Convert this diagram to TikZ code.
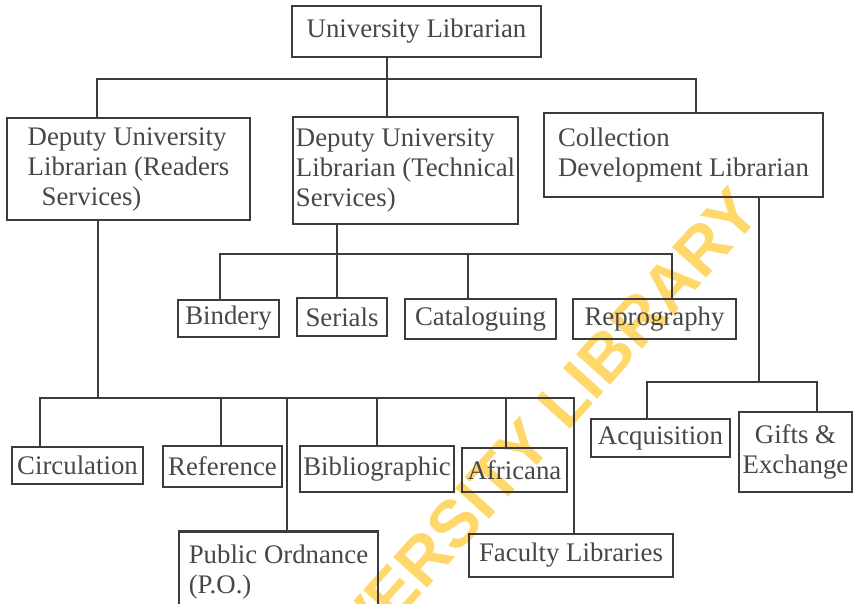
\documentclass[tikz,border=0pt]{standalone}
\usepackage{fontspec}
\setmainfont{Liberation Serif}
\newfontfamily\wmfont{Liberation Sans}
\usepackage{xcolor}
\definecolor{inkgray}{HTML}{3C3C3C}
\definecolor{wmyellow}{HTML}{FFD45C}

\begin{document}
\begin{tikzpicture}[x=0.5pt,y=-0.5pt,
        office/.style={rectangle,draw=inkgray,line width=1.1pt,text=black!72,inner sep=0pt,
            font=\fontsize{13.4}{15}\selectfont},
        link/.style={draw=inkgray,line width=1.1pt}]
            \useasboundingbox[fill=white] (0,0) rectangle (857,604);
            \clip (0,0) rectangle (857,604);
            \node[rotate=48,text=wmyellow,opacity=0.9,font=\wmfont\bfseries\fontsize{33.2}{40}\selectfont] (wmark) at (509,463) {UNIVERSITY LIBRARY};

            \node[office,minimum width=124.5pt,minimum height=25.5pt] (ulib) at (416.5,31.5) {University Librarian};

            \node[office,align=left,minimum width=121.5pt,minimum height=51pt] (dulr) at (128.5,169) {Deputy University\\Librarian (Readers\\\hspace*{7pt}Services)};
            \node[office,align=left,minimum width=112.5pt,minimum height=53.5pt] (dult) at (405.5,170.5) {Deputy University\\Librarian (Technical\\Services)};
            \node[office,align=left,minimum width=139.5pt,minimum height=42pt] (cdl) at (683.5,155) {Collection\\Development Librarian};

            \node[office,minimum width=50.5pt,minimum height=18.5pt] (bind) at (228.5,318.5) {Bindery};
            \node[office,minimum width=45pt,minimum height=19pt] (ser) at (342,317) {Serials};
            \node[office,minimum width=75.5pt,minimum height=20pt] (cat) at (480.5,319) {Cataloguing};
            \node[office,minimum width=81.5pt,minimum height=20pt] (repro) at (654.5,319) {Reprography};

            \node[office,minimum width=65.5pt,minimum height=18.5pt] (circ) at (77.5,465.5) {Circulation};
            \node[office,minimum width=59.5pt,minimum height=20.5pt] (ref) at (222.5,466.5) {Reference};
            \node[office,minimum width=77pt,minimum height=23pt] (bib) at (377,469) {Bibliographic};
            \node[office,minimum width=52.5pt,minimum height=22pt] (afr) at (514.5,470) {Africana};
            \node[office,align=left,minimum width=99.5pt,minimum height=40.5pt] (po) at (278.5,572) {Public Ordnance\\(P.O.)};
            \node[office,minimum width=102pt,minimum height=21.5pt] (fac) at (571,555.5) {Faculty Libraries};

            \node[office,minimum width=69.5pt,minimum height=19pt] (acq) at (660.5,438) {Acquisition};
            \node[office,align=center,minimum width=56.5pt,minimum height=40pt] (gifts) at (795.5,452) {Gifts \&\\Exchange};

            \coordinate (b1w) at (97,79);
            \coordinate (b1m) at (387,79);
            \coordinate (b1e) at (696,79);
            \draw[link] (ulib.south -| b1m) -- (dult.north -| b1m);
            \draw[link] (dulr.north -| b1w) -- (b1w) -- (b1e) -- (cdl.north -| b1e);

            \coordinate (b2w) at (220,254);
            \coordinate (b2m) at (337,254);
            \coordinate (b2c) at (468,254);
            \coordinate (b2e) at (672,254);
            \draw[link] (dult.south -| b2m) -- (ser.north -| b2m);
            \draw[link] (bind.north -| b2w) -- (b2w) -- (b2e) -- (repro.north -| b2e);
            \draw[link] (b2c) -- (cat.north -| b2c);

            \coordinate (b3w) at (40,398);
            \coordinate (b3r) at (98,398);
            \coordinate (b3ref) at (221,398);
            \coordinate (b3po) at (287,398);
            \coordinate (b3bib) at (377,398);
            \coordinate (b3afr) at (506,398);
            \coordinate (b3e) at (574,398);
            \draw[link] (dulr.south -| b3r) -- (b3r);
            \draw[link] (circ.north -| b3w) -- (b3w) -- (b3e) -- (fac.north -| b3e);
            \foreach \c/\n in {b3ref/ref,b3po/po,b3bib/bib,b3afr/afr}
                \draw[link] (\c) -- (\n.north -| \c);

            \coordinate (b4w) at (647,382);
            \coordinate (b4m) at (759,382);
            \coordinate (b4e) at (817,382);
            \draw[link] (cdl.south -| b4m) -- (b4m);
            \draw[link] (acq.north -| b4w) -- (b4w) -- (b4e) -- (gifts.north -| b4e);
        \end{tikzpicture}
\end{document}
